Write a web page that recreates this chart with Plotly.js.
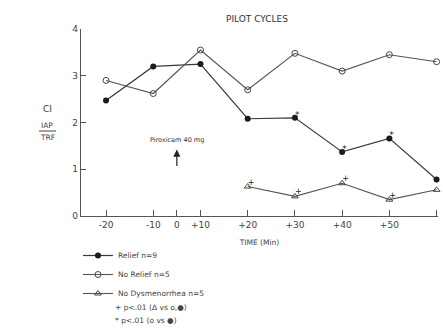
<!DOCTYPE html>
<html>
<head>
<meta charset="utf-8">
<script src="https://cdn.plot.ly/plotly-3.0.1.min.js"></script>
<style>html,body{margin:0;padding:0;background:#fff;}#chart{width:443px;height:330px;}</style>
</head>
<body>
<div id="chart"></div>
<script>
// ---- data ----
const tickTimes = [-20, -10, 0, 10, 20, 30, 40, 50, 60];
const tickLabels = ['-20', '-10', '0', '+10', '+20', '+30', '+40', '+50', '+60'];

const reliefTimes = [-20, -10, 10, 20, 30, 40, 50, 60];
const reliefCI = [2.47, 3.2, 3.25, 2.08, 2.1, 1.37, 1.66, 0.78];

const noReliefTimes = [-20, -10, 10, 20, 30, 40, 50, 60];
const noReliefCI = [2.9, 2.62, 3.55, 2.7, 3.48, 3.1, 3.45, 3.3];

const noDysTimes = [20, 30, 40, 50, 60];
const noDysCI = [0.63, 0.42, 0.7, 0.35, 0.56];

const starTimes = [30, 40, 50];        // * p<.01 (o vs ●)
const plusTimes = [20, 30, 40, 50];    // + p<.01 (Δ vs o,●)

const seriesNames = ['Relief n=9', 'No Relief n=5', 'No Dysmenorrhea n=5'];
const noteLines = ['+ p<.01 (Δ vs o,●)', '* p<.01 (o vs ●)'];
const doseTime = 0;
const doseLevel = 1.42;
const doseLabel = 'Piroxicam 40 mg';

// the original time axis is drawn with a compressed -10..+10 segment
function axisPos(t) {
  if (t <= -10) return (t + 20) / 10;
  if (t <= 10) return 1 + (t + 10) / 20;
  return 2 + (t - 10) / 10;
}
function valueAt(times, vals, t) { return vals[times.indexOf(t)]; }

// plot-area geometry (pixels) for placing page-level labels
const PL = 81, PW = 357, PB = 216, PH = 187;
const px = v => (v - PL) / PW;
const py = v => (PB - v) / PH;

const FONT = 'DejaVu Sans, Liberation Sans, sans-serif';
const INK = '#3a3a3a';

const traces = [
  {
    x: reliefTimes.map(axisPos), y: reliefCI, name: seriesNames[0],
    mode: 'lines+markers', type: 'scatter', cliponaxis: false,
    line: {color: INK, width: 1.2},
    marker: {symbol: 'circle', size: 6, color: '#1a1a1a'}
  },
  {
    x: noReliefTimes.map(axisPos), y: noReliefCI, name: seriesNames[1],
    mode: 'lines+markers', type: 'scatter', cliponaxis: false,
    line: {color: '#555', width: 1.1},
    marker: {symbol: 'circle-open', size: 6, color: '#444', line: {width: 1}}
  },
  {
    x: noDysTimes.map(axisPos), y: noDysCI, name: seriesNames[2],
    mode: 'lines+markers', type: 'scatter', cliponaxis: false,
    line: {color: '#555', width: 1.1},
    marker: {symbol: 'triangle-up-open', size: 6, color: '#444', line: {width: 1}}
  },
  {
    x: starTimes.map(axisPos), y: starTimes.map(t => valueAt(reliefTimes, reliefCI, t) + 0.05),
    mode: 'text', type: 'scatter', text: starTimes.map(() => '*'), cliponaxis: false,
    textposition: 'middle right', textfont: {family: FONT, size: 9, color: '#222'},
    showlegend: false, hoverinfo: 'skip'
  },
  {
    x: plusTimes.map(axisPos), y: plusTimes.map(t => valueAt(noDysTimes, noDysCI, t)),
    mode: 'text', type: 'scatter', text: plusTimes.map(() => '+'), cliponaxis: false,
    textposition: 'top right', textfont: {family: FONT, size: 8, color: '#222'},
    showlegend: false, hoverinfo: 'skip'
  }
];

const note = (text, x, y, size) => ({
  xref: 'paper', yref: 'paper', x: px(x), y: py(y), xanchor: 'left', yanchor: 'middle',
  text: text, showarrow: false, font: {family: FONT, size: size, color: '#444'}
});
const centred = (text, x, y, size) => ({
  xref: 'paper', yref: 'paper', x: px(x), y: py(y), xanchor: 'center', yanchor: 'middle',
  text: text, showarrow: false, font: {family: FONT, size: size, color: '#444'}
});

const layout = {
  width: 443, height: 330,
  margin: {l: 81, r: 5, t: 29, b: 114},
  paper_bgcolor: '#fff', plot_bgcolor: '#fff',
  font: {family: FONT, color: INK, size: 9},
  title: {text: 'PILOT CYCLES', font: {family: FONT, size: 9, color: '#333'},
          x: 257 / 443, xanchor: 'center', y: 1 - 19 / 330, yanchor: 'middle'},
  xaxis: {
    range: [-0.53, 7.03],
    tickvals: tickTimes.map(axisPos), ticktext: tickLabels,
    ticks: 'inside', ticklen: 6, tickcolor: '#555', tickwidth: 1,
    showline: true, linecolor: '#555', linewidth: 1.2,
    showgrid: false, zeroline: false,
    tickfont: {family: FONT, size: 9, color: '#444'},
    title: {text: 'TIME (Min)', font: {family: FONT, size: 7.5, color: '#444'}, standoff: 10}
  },
  yaxis: {
    range: [0, 4],
    tickvals: [0, 1, 2, 3, 4],
    ticks: 'inside', ticklen: 5, tickcolor: '#555', tickwidth: 1,
    showline: true, linecolor: '#555', linewidth: 1.2,
    showgrid: false, zeroline: false,
    tickfont: {family: FONT, size: 9, color: '#444'}
  },
  showlegend: true,
  legend: {
    x: px(78), xanchor: 'left', y: py(241), yanchor: 'top',
    font: {family: FONT, size: 7.5, color: '#444'},
    bgcolor: 'rgba(0,0,0,0)', borderwidth: 0,
    tracegroupgap: 0
  },
  annotations: [
    centred('CI', 47, 109, 9),
    centred('IAP', 47, 125, 7.5),
    centred('TRF', 47, 137, 7.5),
    {x: axisPos(doseTime), y: doseLevel + 0.2, text: doseLabel, showarrow: false,
     font: {family: FONT, size: 6.5, color: '#333'}},
    {x: axisPos(doseTime), y: doseLevel, ax: 0, ay: 18, text: '', showarrow: true,
     arrowhead: 2, arrowsize: 1.2, arrowwidth: 1.2, arrowcolor: '#222'},
    note(noteLines[0], 113, 307, 7.5),
    note(noteLines[1], 113, 320, 7.5)
  ],
  shapes: [
    {type: 'line', xref: 'paper', yref: 'paper', x0: px(39), x1: px(56),
     y0: py(131), y1: py(131), line: {color: '#444', width: 1}}
  ]
};

Plotly.newPlot('chart', traces, layout, {displayModeBar: false, staticPlot: true});
</script>
</body>
</html>
